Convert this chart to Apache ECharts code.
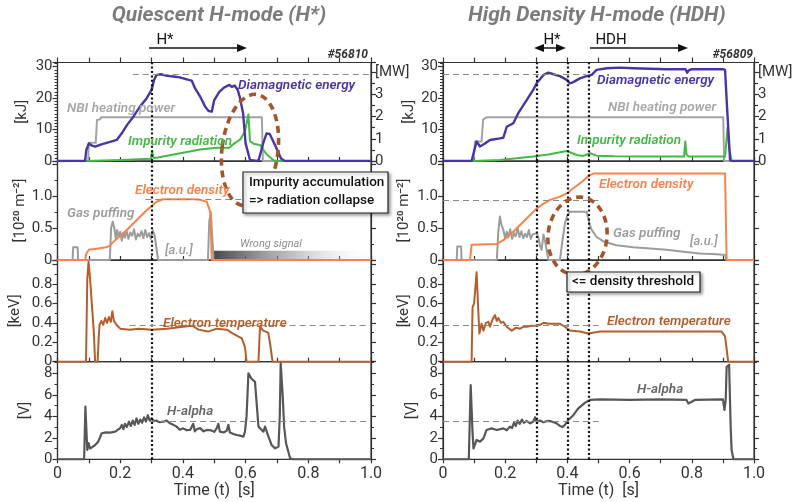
<!DOCTYPE html>
<html>
<head>
<meta charset="utf-8">
<title>KSTAR-like discharge comparison</title>
<script src="https://cdn.jsdelivr.net/npm/echarts@6/dist/echarts.min.js"></script>
<style>
  html, body { margin: 0; padding: 0; background: #fff; }
  #chart { width: 805px; height: 502px; }
</style>
</head>
<body>
<div id="chart"></div>
<script>
// ---------------- shot #56810 : quiescent H-mode (H*) ----------------
const wdia56810 = [[0,0],[0.088,0],[0.092,3.5],[0.1,5.6],[0.108,5.0],[0.12,4.6],[0.14,5.3],[0.168,6.1],[0.189,6.7],[0.205,8.8],[0.222,11.5],[0.242,14.1],[0.263,17.3],[0.284,19.9],[0.3,22.6],[0.308,25.8],[0.316,27.4],[0.33,27.6],[0.35,27.1],[0.37,26.9],[0.39,26.6],[0.412,26.0],[0.428,25.6],[0.439,23.1],[0.455,20.5],[0.471,17.3],[0.482,15.9],[0.492,15.7],[0.5,19.4],[0.516,22.0],[0.532,23.4],[0.548,24.2],[0.556,23.6],[0.565,24.0],[0.575,22.6],[0.581,20.5],[0.592,15.2],[0.6,5.6],[0.614,0.3],[0.635,0],[0.642,0.4],[0.656,5.6],[0.667,8.8],[0.677,8.6],[0.696,4.6],[0.713,0.8],[0.725,0],[1,0]];
const nbi56810 = [[0,0],[0.098,0],[0.1,0.82],[0.122,0.82],[0.126,1.85],[0.135,1.87],[0.14,1.97],[0.652,1.97],[0.655,0],[1,0]];
const prad56810 = [[0,0],[0.09,0],[0.2,0.05],[0.298,0.1],[0.302,0.45],[0.306,0.14],[0.32,0.16],[0.4,0.37],[0.455,0.52],[0.508,0.6],[0.548,0.6],[0.56,0.75],[0.583,0.97],[0.598,1.34],[0.609,2.09],[0.614,0.9],[0.625,0.78],[0.646,0.72],[0.667,0.3],[0.688,0.04],[0.7,0],[1,0]];
const ne56810 = [[0,0],[0.088,0],[0.092,0.1],[0.1,0.16],[0.13,0.18],[0.155,0.2],[0.166,0.22],[0.184,0.31],[0.221,0.47],[0.253,0.625],[0.285,0.78],[0.316,0.91],[0.337,0.95],[0.38,0.95],[0.434,0.95],[0.455,0.94],[0.476,0.91],[0.484,0.8],[0.488,0.73],[0.492,0],[1,0]];
const gas56810 = [[0,0],[0.048,0],[0.05,0.2],[0.064,0.2],[0.066,0],[0.167,0],[0.171,0.5],[0.176,0.6],[0.181,0.5],[0.186,0.33],[0.19,0.47],[0.195,0.36],[0.2,0.44],[0.205,0.3],[0.21,0.42],[0.215,0.35],[0.22,0.46],[0.226,0.33],[0.232,0.43],[0.238,0.38],[0.244,0.48],[0.25,0.32],[0.256,0.41],[0.262,0.37],[0.268,0.45],[0.274,0.34],[0.28,0.47],[0.286,0.36],[0.292,0.42],[0.298,0.33],[0.304,0.46],[0.31,0.38],[0.316,0.4],[0.321,0],[0.48,0],[0.484,0.6],[0.489,0.75],[0.494,0.74],[0.498,0],[1,0]];
const te56810 = [[0,0],[0.091,0],[0.095,0.85],[0.099,1.03],[0.104,0.85],[0.11,0.84],[0.116,0.3],[0.12,0],[0.128,0],[0.131,0.22],[0.134,0.38],[0.14,0.42],[0.146,0.38],[0.152,0.45],[0.158,0.4],[0.164,0.46],[0.17,0.41],[0.175,0.52],[0.18,0.42],[0.188,0.38],[0.2,0.34],[0.23,0.33],[0.26,0.34],[0.3,0.33],[0.35,0.34],[0.4,0.36],[0.43,0.37],[0.45,0.33],[0.48,0.31],[0.508,0.34],[0.54,0.33],[0.56,0.29],[0.588,0.24],[0.598,0.15],[0.603,0],[0.641,0],[0.646,0.36],[0.656,0.32],[0.672,0.3],[0.678,0.19],[0.686,0],[1,0]];
const ha56810 = [[0,0],[0.085,0],[0.089,4.9],[0.095,0.87],[0.099,1.5],[0.104,1.0],[0.12,1.33],[0.13,1.64],[0.141,2.42],[0.155,2.5],[0.168,2.48],[0.184,2.57],[0.2,2.9],[0.205,3.2],[0.21,2.8],[0.215,3.3],[0.221,3.0],[0.228,3.5],[0.234,3.1],[0.24,3.6],[0.246,3.2],[0.252,3.8],[0.258,3.3],[0.264,3.7],[0.27,3.4],[0.276,3.9],[0.282,3.5],[0.288,4.1],[0.294,3.6],[0.3,3.8],[0.308,3.55],[0.316,3.6],[0.325,3.45],[0.337,3.5],[0.348,3.6],[0.359,3.35],[0.37,3.2],[0.38,3.04],[0.39,2.75],[0.401,2.88],[0.412,2.7],[0.423,2.73],[0.428,2.6],[0.433,3.3],[0.438,2.6],[0.444,2.8],[0.455,2.9],[0.466,2.6],[0.476,2.73],[0.49,2.7],[0.5,2.55],[0.508,2.9],[0.513,3.3],[0.518,2.57],[0.53,2.5],[0.54,2.67],[0.545,3.2],[0.55,2.5],[0.561,2.36],[0.572,2.26],[0.582,2.2],[0.593,2.1],[0.598,2.57],[0.603,3.97],[0.609,8.0],[0.619,7.5],[0.63,7.2],[0.635,7.07],[0.641,3.04],[0.657,2.57],[0.662,3.04],[0.673,2.1],[0.683,1.33],[0.694,1.02],[0.705,1.18],[0.709,4.0],[0.712,8.93],[0.718,6.1],[0.723,3.0],[0.729,1.5],[0.742,0.1],[0.75,0],[1,0]];

// ---------------- shot #56809 : high density H-mode (HDH) ----------------
const wdia56809 = [[0,0],[0.092,0],[0.108,6.2],[0.119,4.6],[0.135,5.6],[0.151,6.7],[0.183,7.2],[0.194,7.4],[0.205,10.9],[0.226,12.0],[0.242,15.2],[0.269,19.4],[0.29,22.6],[0.301,24.7],[0.323,27.4],[0.339,28.1],[0.355,27.6],[0.376,27.0],[0.398,25.8],[0.408,24.7],[0.419,25.1],[0.44,26.3],[0.462,27.0],[0.478,27.4],[0.494,29.0],[0.526,29.5],[0.569,29.7],[0.612,29.5],[0.719,29.2],[0.78,29.2],[0.785,28.1],[0.79,28.8],[0.8,29.2],[0.9,29.2],[0.907,29.0],[0.912,19.5],[0.923,0.3],[0.93,0],[1,0]];
const nbi56809 = [[0,0],[0.098,0],[0.103,0.88],[0.124,0.88],[0.129,1.86],[0.135,1.86],[0.14,1.97],[0.901,1.97],[0.904,0],[1,0]];
const prad56809 = [[0,0],[0.098,0],[0.183,0.05],[0.237,0.12],[0.29,0.2],[0.344,0.3],[0.376,0.39],[0.398,0.45],[0.43,0.27],[0.451,0.23],[0.473,0.35],[0.494,0.24],[0.55,0.21],[0.65,0.2],[0.775,0.2],[0.779,0.88],[0.783,0.3],[0.79,0.2],[0.9,0.2],[0.907,0.2],[0.915,1.5],[0.92,0.6],[0.928,0],[1,0]];
const ne56809 = [[0,0],[0.087,0],[0.092,0.24],[0.173,0.25],[0.194,0.31],[0.232,0.47],[0.264,0.625],[0.296,0.78],[0.317,0.86],[0.344,0.94],[0.376,0.99],[0.398,1.04],[0.419,1.12],[0.446,1.22],[0.473,1.33],[0.484,1.35],[0.907,1.35],[0.912,0],[1,0]];
const gas56809 = [[0,0],[0.044,0],[0.046,0.21],[0.058,0.21],[0.06,0],[0.173,0],[0.178,0.45],[0.183,0.68],[0.188,0.55],[0.194,0.47],[0.2,0.34],[0.205,0.44],[0.21,0.35],[0.216,0.48],[0.222,0.33],[0.228,0.42],[0.234,0.37],[0.24,0.5],[0.246,0.36],[0.252,0.45],[0.258,0.34],[0.264,0.41],[0.27,0.36],[0.276,0.47],[0.282,0.33],[0.288,0.4],[0.294,0.37],[0.301,0.42],[0.307,0.35],[0.312,0.22],[0.317,0.16],[0.323,0.4],[0.328,0.3],[0.333,0.31],[0.339,0],[0.376,0],[0.384,0.3],[0.392,0.57],[0.4,0.7],[0.408,0.755],[0.462,0.755],[0.467,0.73],[0.472,0.55],[0.478,0.47],[0.494,0.36],[0.516,0.29],[0.558,0.23],[0.612,0.2],[0.666,0.18],[0.719,0.16],[0.773,0.13],[0.826,0.1],[0.88,0.09],[0.907,0.08],[0.912,0],[1,0]];
const te56809 = [[0,0],[0.092,0],[0.095,0.56],[0.1,0.6],[0.108,0.92],[0.114,0.49],[0.117,0.29],[0.124,0.39],[0.13,0.32],[0.138,0.4],[0.146,0.41],[0.151,0.36],[0.16,0.44],[0.167,0.48],[0.173,0.42],[0.178,0.45],[0.186,0.4],[0.194,0.41],[0.205,0.36],[0.213,0.34],[0.221,0.32],[0.235,0.35],[0.248,0.34],[0.258,0.36],[0.269,0.36],[0.285,0.37],[0.301,0.37],[0.312,0.38],[0.323,0.4],[0.34,0.39],[0.355,0.39],[0.376,0.39],[0.392,0.36],[0.408,0.32],[0.44,0.31],[0.467,0.29],[0.505,0.31],[0.612,0.31],[0.719,0.31],[0.896,0.31],[0.907,0.26],[0.917,0],[1,0]];
const ha56809 = [[0,0],[0.083,0],[0.089,6.9],[0.095,2.5],[0.098,1.0],[0.108,1.8],[0.119,1.64],[0.13,1.95],[0.14,2.73],[0.156,2.88],[0.173,2.73],[0.194,2.88],[0.205,2.7],[0.215,3.04],[0.222,2.9],[0.228,3.4],[0.234,3.1],[0.24,3.6],[0.247,3.3],[0.254,3.7],[0.26,3.4],[0.269,3.57],[0.28,3.35],[0.29,3.5],[0.296,3.9],[0.301,3.5],[0.312,3.6],[0.323,3.45],[0.334,3.55],[0.344,3.57],[0.355,3.45],[0.365,3.35],[0.376,3.1],[0.384,3.0],[0.392,3.2],[0.403,3.66],[0.419,4.1],[0.435,4.74],[0.457,5.27],[0.473,5.52],[0.505,5.58],[0.6,5.52],[0.698,5.58],[0.783,5.52],[0.789,5.2],[0.795,5.3],[0.81,5.52],[0.9,5.58],[0.905,4.6],[0.909,5.5],[0.912,8.6],[0.92,8.8],[0.925,3.0],[0.928,0.87],[0.934,0],[1,0]];

// phase boundaries (s) and dashed reference levels per panel: [value, tStart, tEnd]
const phase56810 = [0.3];
const phase56809 = [0.3, 0.4, 0.473];
const ref56810 = [[27.7, 0.24, 1.0], [0.948, 0.28, 0.65], [0.375, 0.23, 1.0], [3.5, 0.295, 1.0]];
const ref56809 = [[27.7, 0.0, 0.46], [0.938, 0.0, 0.5], [0.374, 0.0, 0.5], [3.5, 0.0, 0.5]];

// y axes for the four panels: [max, major step, minor split, unit]
const panelAxes = [
  [31.34, 10, 10, '[kJ]'],
  [1.547, 0.5, 2, '[10\u00B2\u2070 m\u207B\u00B2]'],
  [1.047, 0.2, 2, '[keV]'],
  [9.08, 2, 2, '[V]']
];
const powerAxis = [4.43, 1, 2];   // NBI / radiation scale in MW
const timeTicks = [0, 0.2, 0.4, 0.6, 0.8, 1.0];

// ---------------- layout ----------------
const FONT = 'Roboto, "Noto Sans", sans-serif';
const AX = '#333';
const cols = [{ left: 57.5, width: 313.5 }, { left: 443, width: 311 }];
const rows = [{ top: 62.5, height: 98.5 }, { top: 161, height: 99 }, { top: 260, height: 101.7 }, { top: 361.7, height: 97.6 }];
const nameGaps = [[27.5, 30, 34.5, 24.5], [26, 31, 31, 23]];

const C = {
  wdia: '#4a34a6', nbi: '#a3a3a3', prad: '#45b845', ne: '#f7834c',
  gas: '#9c9c9c', te: '#b65e2b', ha: '#575757', ring: '#a5552a'
};

const grid = [], xAxis = [], yAxis = [], series = [];
cols.forEach((c, ci) => rows.forEach((r, ri) => {
  grid.push({ left: c.left, width: c.width, top: r.top, height: r.height,
    show: true, borderColor: AX, borderWidth: 1.2, backgroundColor: 'transparent' });
}));

function fmtY(ri) {
  return v => {
    const s = Math.round(v * 1000) / 1000;
    if (s === 0) return '0';
    if (ri === 1) return s > 1.2 ? '' : s.toFixed(1);
    if (ri === 2) return s > 0.9 ? '' : s.toFixed(1);
    return String(s);
  };
}

for (let g = 0; g < 8; g++) {
  const ci = Math.floor(g / 4), ri = g % 4;
  xAxis.push({
    type: 'value', gridIndex: g, min: 0, max: 1, interval: 0.1, position: 'bottom',
    axisLine: { show: true, onZero: false, lineStyle: { color: AX, width: 1.2 } },
    axisTick: { show: true, length: 4, inside: ri < 3, lineStyle: { color: AX, width: 1.2 } },
    splitLine: { show: false },
    axisLabel: {
      show: ri === 3, color: AX, fontSize: 16, fontFamily: FONT, margin: 7,
      formatter: v => {
        const k = Math.round(v * 10);
        if (!timeTicks.some(t => Math.round(t * 10) === k)) return '';
        return k === 0 ? '0' : (k / 10).toFixed(1);
      }
    },
    name: ri === 3 ? 'Time (t)  [s]' : '', nameLocation: 'middle', nameGap: 24,
    nameTextStyle: { color: AX, fontSize: 16, fontFamily: FONT }
  });
}
// outward ticks along the upper frame of the top panels
[0, 4].forEach(g => xAxis.push({
  type: 'value', gridIndex: g, min: 0, max: 1, interval: 0.1, position: 'top',
  axisLine: { show: true, onZero: false, lineStyle: { color: AX, width: 1.2 } },
  axisTick: { show: true, length: 5, lineStyle: { color: AX, width: 1.2 } },
  axisLabel: { show: false }, splitLine: { show: false }
}));

for (let g = 0; g < 8; g++) {
  const ci = Math.floor(g / 4), ri = g % 4;
  const [mx, step, minor, unit] = panelAxes[ri];
  yAxis.push({
    type: 'value', gridIndex: g, position: 'left', min: 0, max: mx, interval: step,
    axisLine: { show: true, onZero: false, lineStyle: { color: AX, width: 1.2 } },
    axisTick: { show: true, length: 5, lineStyle: { color: AX, width: 1.2 } },
    minorTick: { show: true, splitNumber: minor, length: 3, lineStyle: { color: AX, width: 1 } },
    splitLine: { show: false }, minorSplitLine: { show: false },
    axisLabel: { color: AX, fontSize: 15, fontFamily: FONT, margin: 5, formatter: fmtY(ri) },
    name: unit, nameLocation: 'middle', nameRotate: 90, nameGap: nameGaps[ci][ri],
    nameTextStyle: { color: AX, fontSize: 15, fontFamily: FONT }
  });
  if (ri === 0) {
    yAxis.push({
      type: 'value', gridIndex: g, position: 'right', min: 0, max: powerAxis[0], interval: powerAxis[1],
      axisLine: { show: true, onZero: false, lineStyle: { color: AX, width: 1.2 } },
      axisTick: { show: true, length: 5, lineStyle: { color: AX, width: 1.2 } },
      minorTick: { show: true, splitNumber: powerAxis[2], length: 4, lineStyle: { color: AX, width: 1.2 } },
      splitLine: { show: false },
      axisLabel: { color: AX, fontSize: 15, fontFamily: FONT, margin: 4,
        formatter: v => (Math.round(v) === 4 ? '[MW]' : String(Math.round(v))) }
    });
  } else {
    yAxis.push({
      type: 'value', gridIndex: g, position: 'right', min: 0, max: mx, interval: step,
      axisLine: { show: true, onZero: false, lineStyle: { color: AX, width: 1.2 } },
      axisTick: { show: true, length: 5, lineStyle: { color: AX, width: 1.2 } },
      minorTick: { show: true, splitNumber: minor, length: 3, lineStyle: { color: AX, width: 1 } },
      splitLine: { show: false }, axisLabel: { show: false }
    });
  }
}

function addLine(data, color, width, g, right, extra) {
  series.push(Object.assign({
    type: 'line', data, xAxisIndex: g, yAxisIndex: 2 * g + (right ? 1 : 0),
    showSymbol: false, symbol: 'none', silent: true, animation: false,
    lineStyle: { color, width, join: 'round' }, itemStyle: { color }
  }, extra || {}));
}

function guides(phases, ref) {
  const lines = phases.map(t => ({ xAxis: t, lineStyle: { type: [2, 2.4], color: '#111', width: 2.2 } }));
  lines.push([
    { coord: [ref[1], ref[0]], lineStyle: { type: [6, 4], color: '#8a8a8a', width: 1.2 } },
    { coord: [ref[2], ref[0]] }
  ]);
  return { markLine: { silent: true, symbol: 'none', label: { show: false }, animation: false, data: lines } };
}

const shots = [
  { wdia: wdia56810, nbi: nbi56810, prad: prad56810, ne: ne56810, gas: gas56810, te: te56810, ha: ha56810, ph: phase56810, ref: ref56810 },
  { wdia: wdia56809, nbi: nbi56809, prad: prad56809, ne: ne56809, gas: gas56809, te: te56809, ha: ha56809, ph: phase56809, ref: ref56809 }
];

shots.forEach((s, ci) => {
  const g0 = ci * 4;
  addLine(s.nbi, C.nbi, 2, g0, true);
  addLine(s.prad, C.prad, 2, g0, true);
  addLine(s.wdia, C.wdia, 2.4, g0, false, guides(s.ph, s.ref[0]));
  const neExtra = guides(s.ph, s.ref[1]);
  if (ci === 0) {
    // invalid interferometer data after the collapse
    neExtra.markArea = {
      silent: true, animation: false,
      itemStyle: { color: new echarts.graphic.LinearGradient(0, 0, 1, 0, [
        { offset: 0, color: 'rgba(60,60,60,0.95)' },
        { offset: 0.5, color: 'rgba(150,150,150,0.6)' },
        { offset: 1, color: 'rgba(255,255,255,0.1)' }]) },
      data: [[{ coord: [0.497, 0] }, { coord: [1.0, 0.146] }]]
    };
  }
  addLine(s.gas, C.gas, 2, g0 + 1, false);
  addLine(s.ne, C.ne, 2, g0 + 1, false, neExtra);
  addLine(s.te, C.te, 2, g0 + 2, false, guides(s.ph, s.ref[2]));
  addLine(s.ha, C.ha, 2.2, g0 + 3, false, guides(s.ph, s.ref[3]));
});

// ---------------- annotations ----------------
const T = (text, x, y, font, fill, align, extra) => Object.assign({
  type: 'text', x, y, z: 120, silent: true,
  style: { text, font: font + ' ' + FONT, fill, align: align || 'left', verticalAlign: 'middle' }
}, extra || {});

function arrowHead(x, y, dir) {
  return { type: 'polygon', z: 120, silent: true,
    shape: { points: [[x, y], [x - dir * 10, y - 4], [x - dir * 10, y + 4]] }, style: { fill: '#111' } };
}
const hLine = (x1, x2, y) => ({ type: 'line', z: 120, silent: true,
  shape: { x1, y1: y, x2, y2: y }, style: { stroke: '#111', lineWidth: 1.5 } });

const ring = (x, y, rx, ry, rot) => ({
  type: 'ellipse', x, y, rotation: rot, z: 110, silent: true,
  shape: { cx: 0, cy: 0, rx, ry },
  style: { fill: null, stroke: C.ring, lineWidth: 3.6, lineDash: [7, 5] }
});

const box = (x, y, w, h) => ({
  type: 'rect', z: 115, silent: true, shape: { x, y, width: w, height: h },
  style: { fill: '#fff', stroke: '#222', lineWidth: 1.2,
    shadowColor: 'rgba(0,0,0,0.35)', shadowBlur: 3, shadowOffsetX: 2, shadowOffsetY: 2 }
});

const labelFont = 'italic 600 13.5px';
const graphic = [
  T('Quiescent H-mode (H*)', 219, 16, 'italic 700 21px', '#7c7c7c', 'center'),
  T('High Density H-mode (HDH)', 597, 16, 'italic 700 21px', '#7c7c7c', 'center'),

  T('H*', 165, 40, '15px', '#111', 'center'),
  hLine(149, 240, 48), arrowHead(247, 48, 1),
  T('H*', 552, 40, '15px', '#111', 'center'),
  hLine(540, 560, 48), arrowHead(534, 48, -1), arrowHead(566, 48, 1),
  T('HDH', 611, 40, '15px', '#111', 'center'),
  hLine(590, 680, 48), arrowHead(688, 48, 1),

  T('#56810', 368, 55, 'italic 700 12px', '#333', 'right'),
  T('#56809', 753, 55, 'italic 700 12px', '#333', 'right'),

  T('Diamagnetic energy', 238, 86, labelFont, C.wdia),
  T('NBI heating power', 67, 109, labelFont, '#a8a8a8'),
  T('Impurity radiation', 128, 142, labelFont, C.prad),
  T('Electron density', 135, 191, labelFont, C.ne),
  T('Gas puffing', 67, 214, labelFont, '#9c9c9c'),
  T('[a.u.]', 165, 251, 'italic 500 13px', '#9c9c9c'),
  T('Wrong signal', 240, 244, 'italic 400 11px', '#8c8c8c'),
  T('Electron temperature', 163, 324, labelFont, C.te),
  T('H-alpha', 167, 412, labelFont, '#666'),

  T('Diamagnetic energy', 597, 81, labelFont, C.wdia),
  T('NBI heating power', 608, 108, labelFont, '#a8a8a8'),
  T('Impurity radiation', 577, 141, labelFont, C.prad),
  T('Electron density', 599, 185, labelFont, C.ne),
  T('Gas puffing', 613, 234, labelFont, '#9c9c9c'),
  T('[a.u.]', 690, 242, 'italic 500 13px', '#9c9c9c'),
  T('Electron temperature', 607, 322, labelFont, C.te),
  T('H-alpha', 637, 390, labelFont, '#666'),

  ring(250, 150, 28, 56, -0.12),
  ring(577.5, 236, 29.5, 39, -0.12),

  box(243, 172, 145, 41),
  T('Impurity accumulation', 249, 183, '500 13.5px', '#111', 'left', { z: 125 }),
  T('=> radiation collapse', 249, 201, '500 13.5px', '#111', 'left', { z: 125 }),
  box(567, 272, 133, 20),
  T('<= density threshold', 572, 282, '500 13.5px', '#111', 'left', { z: 125 })
];

const chart = echarts.init(document.getElementById('chart'), null, { renderer: 'canvas' });
chart.setOption({
  animation: false,
  backgroundColor: '#fff',
  textStyle: { fontFamily: FONT },
  grid, xAxis, yAxis, series, graphic
});
</script>
</body>
</html>
